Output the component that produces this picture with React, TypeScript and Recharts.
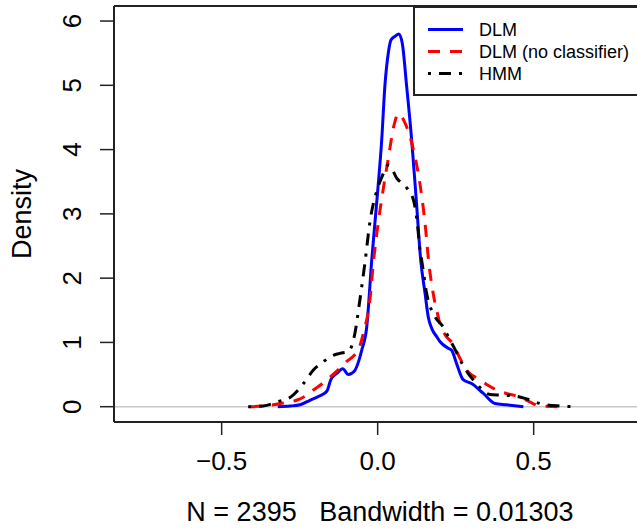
import React from "react";
import {
  LineChart,
  Line,
  XAxis,
  YAxis,
  ReferenceLine,
  Legend,
  Label,
} from "recharts";

// density estimates
const dlmX = [
  -0.32, -0.28, -0.249, -0.217, -0.185, -0.163, -0.15, -0.131, -0.112, -0.094,
  -0.075, -0.06, -0.051, -0.035, -0.019, 0.0, 0.013, 0.023, 0.034, 0.043, 0.055,
  0.068, 0.079, 0.093, 0.109, 0.124, 0.138, 0.152, 0.162, 0.175, 0.189, 0.2,
  0.226, 0.237, 0.253, 0.274, 0.301, 0.338, 0.376, 0.413, 0.467,
];
const dlmDensity = [
  0.0, 0.01, 0.03, 0.1, 0.17, 0.24, 0.42, 0.52, 0.59, 0.5, 0.55, 0.72, 0.88,
  1.24, 2.28, 3.35, 4.15, 4.98, 5.5, 5.71, 5.76, 5.8, 5.65, 4.98, 4.15, 3.2,
  2.28, 1.76, 1.4, 1.2, 1.09, 1.01, 0.91, 0.88, 0.67, 0.42, 0.36, 0.21, 0.05,
  0.03, 0.0,
];

const noClsX = [
  -0.409, -0.37, -0.335, -0.3, -0.26, -0.23, -0.206, -0.18, -0.153, -0.121,
  -0.1, -0.075, -0.062, -0.046, -0.025, -0.013, 0.003, 0.019, 0.035, 0.051,
  0.067, 0.088, 0.115, 0.137, 0.153, 0.163, 0.178, 0.194, 0.2, 0.216, 0.242,
  0.264, 0.285, 0.328, 0.355, 0.381, 0.41, 0.435, 0.478, 0.52, 0.584,
];
const noClsDensity = [
  0.0, 0.01, 0.03, 0.06, 0.1, 0.17, 0.26, 0.35, 0.46, 0.6, 0.7, 0.8, 0.88,
  1.14, 1.66, 2.28, 2.9, 3.42, 3.89, 4.35, 4.56, 4.41, 3.99, 3.42, 2.8, 2.28,
  1.76, 1.4, 1.28, 1.12, 0.97, 0.75, 0.57, 0.42, 0.33, 0.26, 0.21, 0.18, 0.1,
  0.01, 0.0,
];

const hmmX = [
  -0.415, -0.367, -0.319, -0.276, -0.238, -0.206, -0.174, -0.142, -0.121,
  -0.094, -0.073, -0.057, -0.041, -0.024, -0.002, 0.014, 0.035, 0.062, 0.094,
  0.115, 0.126, 0.137, 0.141, 0.157, 0.184, 0.21, 0.225, 0.245, 0.264, 0.29,
  0.317, 0.34, 0.36, 0.39, 0.435, 0.478, 0.52, 0.584, 0.627,
];
const hmmDensity = [
  0.0, 0.01, 0.08, 0.16, 0.36, 0.57, 0.7, 0.8, 0.83, 0.86, 1.14, 1.66, 2.23,
  2.9, 3.37, 3.58, 3.76, 3.55, 3.4, 3.21, 2.9, 2.39, 2.28, 1.76, 1.4, 1.24,
  1.1, 0.92, 0.73, 0.52, 0.36, 0.24, 0.19, 0.18, 0.17, 0.12, 0.05, 0.01, 0.0,
];

const seriesNames = ["DLM", "DLM (no classifier)", "HMM"];
const seriesColors = ["#0000ff", "#ff0000", "#000000"];
const seriesDash = [undefined, "12 10", "3 8 12 8"];

const xTicks = [-0.5, 0, 0.5];
const yTicks = [0, 1, 2, 3, 4, 5, 6];
const xDomain = [-0.845, 0.86];
const yDomain = [-0.238, 6.234];

const xLabel = "N = 2395   Bandwidth = 0.01303";
const yLabel = "Density";

const FONT = '"Liberation Sans", Arial, Helvetica, sans-serif';
const FRAME = "#222";

const toPoints = (xs: number[], ys: number[]) =>
  xs.map((x, i) => ({ x, y: ys[i] }));

const seriesData = [
  toPoints(dlmX, dlmDensity),
  toPoints(noClsX, noClsDensity),
  toPoints(hmmX, hmmDensity),
];

const fmtX = (v: number) =>
  v < 0 ? "\u2212" + Math.abs(v).toFixed(1) : v.toFixed(1);

const YTick = (props: any) => {
  const { x, y, payload } = props;
  const bx = x - 19;
  return (
    <text
      x={bx}
      y={y}
      transform={`rotate(-90 ${bx} ${y})`}
      textAnchor="middle"
      fontSize={26}
      fontFamily={FONT}
      fill="#000"
    >
      {payload.value}
    </text>
  );
};

const LegendBox = () => (
  <svg width={240} height={90} style={{ display: "block" }}>
    <rect x={1} y={1} width={260} height={88} fill="#fff" stroke={FRAME} strokeWidth={2} />
    {seriesNames.map((name, i) => {
      const cy = 23.5 + i * 22;
      return (
        <g key={name}>
          <line
            x1={15}
            x2={50}
            y1={cy}
            y2={cy}
            stroke={seriesColors[i]}
            strokeWidth={3}
            strokeDasharray={seriesDash[i]}
          />
          <text
            x={66}
            y={cy}
            dominantBaseline="central"
            fontSize={18}
            fontFamily={FONT}
            fill="#000"
          >
            {name}
          </text>
        </g>
      );
    })}
  </svg>
);

export default function App() {
  return (
    <div
      style={{
        position: "fixed",
        left: 0,
        top: 0,
        width: 637,
        height: 528,
        overflow: "hidden",
        background: "#fff",
      }}
    >
      <LineChart
        width={665}
        height={528}
        margin={{ top: 6, right: 19, bottom: 0, left: 0 }}
      >
        <XAxis
          type="number"
          dataKey="x"
          domain={xDomain}
          ticks={xTicks}
          allowDataOverflow
          axisLine={{ stroke: FRAME, strokeWidth: 2 }}
          tickLine={{ stroke: FRAME, strokeWidth: 1.5 }}
          tickSize={13}
          tickMargin={17}
          height={106}
          tickFormatter={fmtX}
          tick={{ fontSize: 26, fontFamily: FONT, fill: "#000" }}
        >
          <Label
            content={(p: any) => {
              const vb = p.viewBox || { x: 114, y: 422, width: 532, height: 106 };
              const lx = vb.x + vb.width / 2;
              const ly = vb.y + vb.height - 7;
              return (
                <text
                  x={lx}
                  y={ly}
                  textAnchor="middle"
                  fontSize={27}
                  fontFamily={FONT}
                  fill="#000"
                  style={{ whiteSpace: "pre" }}
                  xmlSpace="preserve"
                >
                  {xLabel}
                </text>
              );
            }}
          />
        </XAxis>
        <YAxis
          type="number"
          domain={yDomain}
          ticks={yTicks}
          allowDataOverflow
          axisLine={{ stroke: FRAME, strokeWidth: 2 }}
          tickLine={{ stroke: FRAME, strokeWidth: 1.5 }}
          tickSize={14}
          tickMargin={0}
          width={114}
          tick={<YTick />}
        >
          <Label
            content={(p: any) => {
              const vb = p.viewBox || { x: 0, y: 6, height: 416 };
              const lx = vb.x + 22;
              const ly = vb.y + vb.height / 2;
              return (
                <text
                  x={lx}
                  y={ly}
                  transform={`rotate(-90 ${lx} ${ly})`}
                  textAnchor="middle"
                  dominantBaseline="central"
                  fontSize={27}
                  fontFamily={FONT}
                  fill="#000"
                >
                  {yLabel}
                </text>
              );
            }}
          />
        </YAxis>
        <ReferenceLine y={0} stroke="#c8c8c8" strokeWidth={1.5} />
        <ReferenceLine y={yDomain[1]} stroke={FRAME} strokeWidth={2} />
        {seriesData.map((d, i) => (
          <Line
            key={seriesNames[i]}
            data={d}
            dataKey="y"
            name={seriesNames[i]}
            type="monotone"
            stroke={seriesColors[i]}
            strokeWidth={3}
            strokeDasharray={seriesDash[i]}
            dot={false}
            activeDot={false}
            isAnimationActive={false}
          />
        ))}
        <Legend
          layout="vertical"
          align="center"
          verticalAlign="middle"
          wrapperStyle={{ left: 413, top: 6, width: 240, height: 90 }}
          content={() => <LegendBox />}
        />
      </LineChart>
    </div>
  );
}
